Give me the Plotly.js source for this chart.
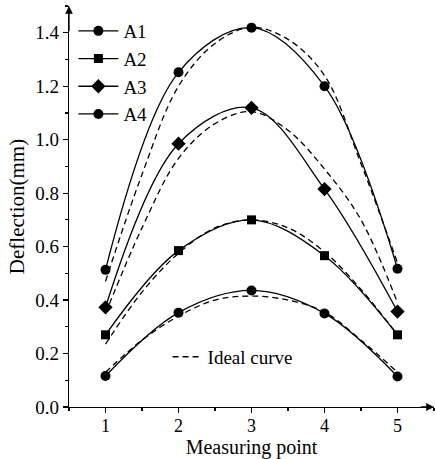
<!DOCTYPE html>
<html>
<head>
<meta charset="utf-8">
<script src="https://cdn.plot.ly/plotly-3.0.1.min.js"></script>
<style>html,body{margin:0;padding:0;background:#fff;}#chart{width:435px;height:459px;}</style>
</head>
<body>
<div id="chart"></div>
<script>
// Measuring points
var points = [1, 2, 3, 4, 5];
// Measured deflection (mm)
var A1 = [0.116, 0.353, 0.436, 0.350, 0.114];
var A2 = [0.270, 0.585, 0.700, 0.566, 0.270];
var A3 = [0.373, 0.985, 1.119, 0.815, 0.357];
var A4 = [0.513, 1.252, 1.419, 1.200, 0.517];
// Ideal curves
var idealX = [1, 1.5, 2, 2.5, 3, 3.5, 4, 4.5, 5];
var idealA1 = [0.13, 0.25, 0.34, 0.40, 0.415, 0.40, 0.355, 0.25, 0.13];
var idealA2 = [0.235, 0.43, 0.575, 0.67, 0.70, 0.67, 0.58, 0.44, 0.27];
var idealA3 = [0.35, 0.67, 0.93, 1.06, 1.105, 1.035, 0.89, 0.70, 0.39];
var idealA4 = [0.47, 0.87, 1.20, 1.36, 1.42, 1.375, 1.24, 0.91, 0.54];
var seriesNames = ['A1', 'A2', 'A3', 'A4'];
var idealName = 'Ideal curve';
var xTickVals = [1, 2, 3, 4, 5];
var yTickVals = [0.0, 0.2, 0.4, 0.6, 0.8, 1.0, 1.2, 1.4];

var measured = [A1, A2, A3, A4];
var ideals = [idealA1, idealA2, idealA3, idealA4];
var symbols = ['circle', 'square', 'diamond', 'circle'];
var sizes = [10, 9, 11, 10];

var traces = [];
ideals.forEach(function (ys, i) {
  traces.push({
    x: idealX, y: ys, type: 'scatter', mode: 'lines',
    line: {color: '#000', width: 1.3, dash: '6px,4px', shape: 'spline', smoothing: 1},
    name: idealName, legend: 'legend2', showlegend: i === 0, hoverinfo: 'skip'
  });
});
measured.forEach(function (ys, i) {
  traces.push({
    x: points, y: ys, type: 'scatter', mode: 'lines+markers',
    line: {color: '#000', width: 1.3, shape: 'spline', smoothing: 1},
    marker: {color: '#000', symbol: symbols[i], size: sizes[i]},
    name: seriesNames[i], legend: 'legend'
  });
});

var FAM = 'Liberation Serif, Times New Roman, serif';
function f(sz) { return {family: FAM, size: sz, color: '#000'}; }
var layout = {
  width: 435, height: 459,
  margin: {l: 69, r: 1, t: 6, b: 52},
  paper_bgcolor: '#fff', plot_bgcolor: '#fff',
  font: f(18),
  showlegend: true,
  xaxis: {
    range: [0.5, 5.5], tickvals: xTickVals, ticktext: xTickVals.map(String),
    ticks: 'outside', ticklen: 5, tickwidth: 1.2, tickcolor: '#000',
    minor: {dtick: 0.5, tick0: 0.5, ticks: 'outside', ticklen: 3, tickcolor: '#000'},
    showgrid: false, zeroline: false, showline: true, linecolor: '#000', linewidth: 1.3,
    tickfont: f(18), ticklabelstandoff: -3,
    title: {text: 'Measuring point', font: f(20)}
  },
  yaxis: {
    range: [0, 1.5], tickvals: yTickVals, tickformat: '.1f',
    ticks: 'outside', ticklen: 5, tickwidth: 1.2, tickcolor: '#000',
    minor: {dtick: 0.1, tick0: 0, ticks: 'outside', ticklen: 3, tickcolor: '#000'},
    showgrid: false, zeroline: false, showline: true, linecolor: '#000', linewidth: 1.3,
    tickfont: f(19),
    title: {text: 'Deflection(mm)', font: f(21), standoff: 4}
  },
  legend: {
    x: 0.012, y: 0.985, xanchor: 'left', yanchor: 'top',
    bgcolor: 'rgba(0,0,0,0)', borderwidth: 0,
    font: f(19), tracegroupgap: 0, itemwidth: 40
  },
  legend2: {
    x: 0.27, y: 0.125, xanchor: 'left', yanchor: 'middle',
    bgcolor: 'rgba(0,0,0,0)', borderwidth: 0,
    font: f(19), itemwidth: 30
  },
  annotations: [
    {x: 5.5, y: 0, ax: 5.3, ay: 0, xref: 'x', yref: 'y', axref: 'x', ayref: 'y',
     showarrow: true, arrowhead: 2, arrowsize: 1.2, arrowwidth: 1.3, arrowcolor: '#000', text: ''},
    {x: 0.5, y: 1.5, ax: 0.5, ay: 1.4, xref: 'x', yref: 'y', axref: 'x', ayref: 'y',
     showarrow: true, arrowhead: 2, arrowsize: 1.2, arrowwidth: 1.3, arrowcolor: '#000', text: ''}
  ]
};

Plotly.newPlot('chart', traces, layout, {displayModeBar: false, staticPlot: true});
</script>
</body>
</html>
